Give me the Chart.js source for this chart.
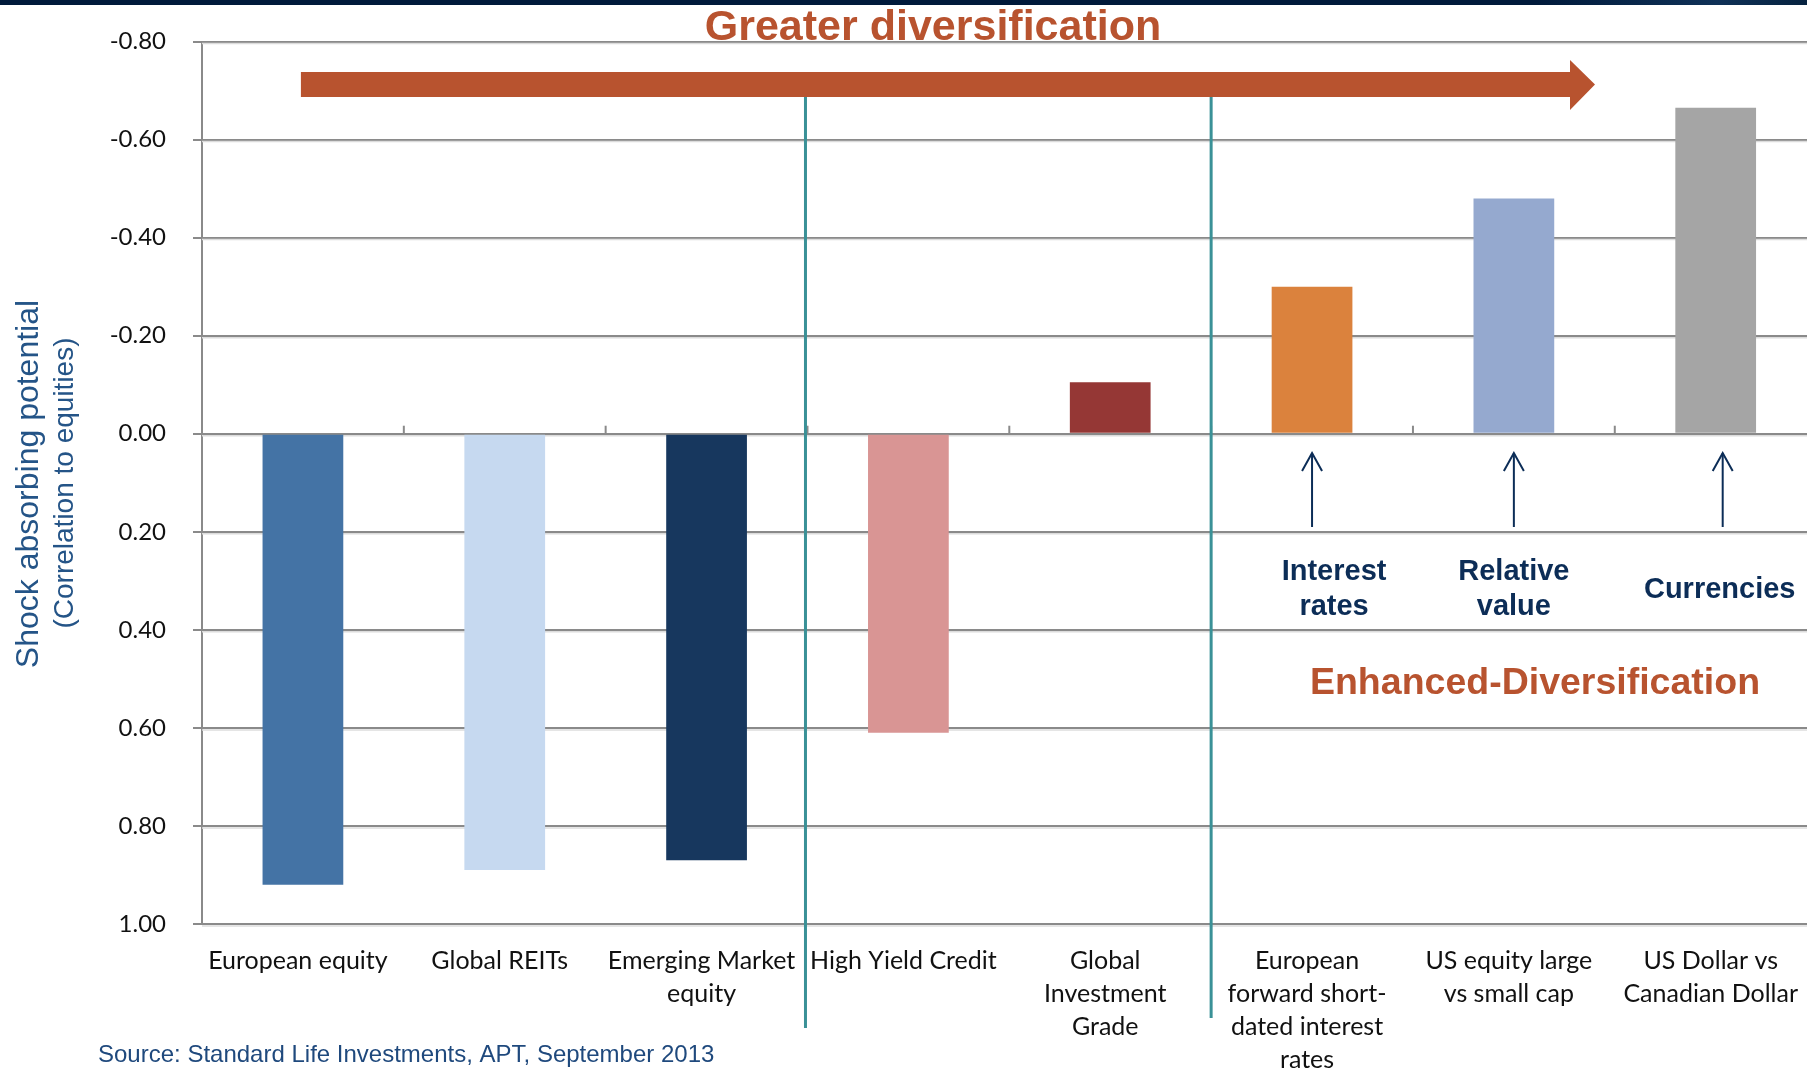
<!DOCTYPE html>
<html><head><meta charset="utf-8">
<script src="https://cdn.jsdelivr.net/npm/chart.js@4/dist/chart.umd.min.js"></script>
<style>
html,body{margin:0;padding:0;background:#fff;overflow:hidden;width:1807px;height:1070px;}
#wrap{position:absolute;left:0;top:0;width:1824px;height:1070px;}
</style></head><body>
<div id="wrap"><canvas id="c" width="1824" height="1070"></canvas></div>
<script>
// ---------- data ----------
const categories = [
  ["European equity"],
  ["Global REITs"],
  ["Emerging Market", "equity"],
  ["High Yield Credit"],
  ["Global", "Investment", "Grade"],
  ["European", "forward short-", "dated interest", "rates"],
  ["US equity large", "vs small cap"],
  ["US Dollar vs", "Canadian Dollar"]
];
const correlations = [0.92, 0.89, 0.87, 0.61, -0.105, -0.30, -0.48, -0.665];
const barColors = ["#4473a5", "#c6d9f0", "#17375e", "#d99594", "#953735", "#db823d", "#95a9cf", "#a5a5a5"];
const yMin = -0.8, yMax = 1.0, yStep = 0.2;
const yTitle = ["Shock absorbing potential", "(Correlation to equities)"];
const chartTitle = "Greater diversification";
const subTitle = "Enhanced-Diversification";
const callouts = [
  { cat: 5, lines: ["Interest", "rates"], dx: 22 },
  { cat: 6, lines: ["Relative", "value"], dx: 0 },
  { cat: 7, lines: ["Currencies"], dx: 4 }
];
const dividersAfter = [2, 4];
const sourceText = "Source: Standard Life Investments, APT, September 2013";

const GRID = "#8a8a8a";
const ORANGE = "#b8532f";
const NAVY = "#0c2d57";
const TEAL = "#3a9197";

const overlay = {
  id: "overlay",
  beforeDraw(chart) {
    const ctx = chart.ctx;
    ctx.save();
    ctx.fillStyle = "#ffffff";
    ctx.fillRect(0, 0, chart.width, chart.height);
    ctx.restore();
  },
  beforeDatasetsDraw(chart) {
    // faint shadow under each horizontal gridline
    const { ctx, scales: { y }, chartArea } = chart;
    ctx.save();
    ctx.strokeStyle = "#dcdcdc"; ctx.lineWidth = 1.5;
    y.ticks.forEach(t => {
      const py = y.getPixelForValue(t.value) + 2;
      ctx.beginPath(); ctx.moveTo(chartArea.left, py); ctx.lineTo(chartArea.right, py); ctx.stroke();
    });
    ctx.restore();
  },
  afterDatasetsDraw(chart) {
    const { ctx, scales: { x, y } } = chart;
    const y0 = y.getPixelForValue(0);
    const bnd = i => (x.getPixelForValue(i) + x.getPixelForValue(i + 1)) / 2;
    ctx.save();
    // small category ticks on zero line
    ctx.strokeStyle = GRID; ctx.lineWidth = 2;
    for (let i = 0; i < categories.length - 1; i++) {
      const bx = bnd(i);
      ctx.beginPath(); ctx.moveTo(bx, y0); ctx.lineTo(bx, y0 - 8); ctx.stroke();
    }
    // teal dividers
    ctx.strokeStyle = TEAL; ctx.lineWidth = 3;
    const divBottoms = [1028, 1018];
    dividersAfter.forEach((c, k) => {
      const bx = bnd(c) - (k === 0 ? 2 : 0);
      ctx.beginPath(); ctx.moveTo(bx, 97); ctx.lineTo(bx, divBottoms[k]); ctx.stroke();
    });
    // big arrow
    const ax0 = x.getPixelForValue(0) - 2;
    ctx.fillStyle = ORANGE;
    ctx.beginPath();
    ctx.moveTo(ax0, 72); ctx.lineTo(1570, 72); ctx.lineTo(1570, 60); ctx.lineTo(1595, 84.5);
    ctx.lineTo(1570, 110); ctx.lineTo(1570, 97); ctx.lineTo(ax0, 97); ctx.closePath(); ctx.fill();
    // callout arrows
    ctx.strokeStyle = NAVY; ctx.lineWidth = 2;
    callouts.forEach(c => {
      const cx = x.getPixelForValue(c.cat) + (c.cat === 7 ? 7 : 0);
      const top = 453, bot = 527;
      ctx.beginPath(); ctx.moveTo(cx, bot); ctx.lineTo(cx, top); ctx.stroke();
      ctx.beginPath(); ctx.moveTo(cx - 10, top + 18); ctx.lineTo(cx, top); ctx.lineTo(cx + 10, top + 18); ctx.stroke();
    });
    ctx.restore();
  },
  afterDraw(chart) {
    const { ctx, scales: { x } } = chart;
    ctx.save();
    // top band
    const g = ctx.createLinearGradient(0, 0, 1807, 0);
    g.addColorStop(0, "#001a3b"); g.addColorStop(0.85, "#001a3b"); g.addColorStop(0.95, "#0f3157"); g.addColorStop(1, "#06223f");
    ctx.fillStyle = g;
    ctx.fillRect(0, 0, chart.width, 5);
    // title
    ctx.fillStyle = ORANGE;
    ctx.font = "bold 43px 'Liberation Sans', Arial, sans-serif";
    ctx.textAlign = "center"; ctx.textBaseline = "alphabetic";
    ctx.fillText(chartTitle, 933, 40);
    // enhanced
    ctx.font = "bold 37.5px 'Liberation Sans', Arial, sans-serif";
    ctx.textBaseline = "middle";
    ctx.fillText(subTitle, 1535, 684);
    // callout texts
    ctx.fillStyle = NAVY;
    ctx.font = "bold 29px 'Liberation Sans', Arial, sans-serif";
    callouts.forEach(c => {
      const cx = x.getPixelForValue(c.cat) + c.dx;
      if (c.lines.length === 1) {
        ctx.fillText(c.lines[0], cx, 590);
      } else {
        ctx.fillText(c.lines[0], cx, 572);
        ctx.fillText(c.lines[1], cx, 607);
      }
    });
    // y title
    ctx.fillStyle = "#245487";
    ctx.save();
    ctx.translate(29, 484); ctx.rotate(-Math.PI / 2);
    ctx.font = "32px 'Liberation Sans', Arial, sans-serif";
    ctx.fillText(yTitle[0], 0, 0);
    ctx.restore();
    ctx.save();
    ctx.translate(65, 483); ctx.rotate(-Math.PI / 2);
    ctx.font = "28px 'Liberation Sans', Arial, sans-serif";
    ctx.fillText(yTitle[1], 0, 0);
    ctx.restore();
    // source
    ctx.fillStyle = "#1f497d";
    ctx.textAlign = "left";
    ctx.font = "24px 'Liberation Sans', Arial, sans-serif";
    ctx.fillText(sourceText, 98, 1055);
    ctx.restore();
  }
};

new Chart(document.getElementById("c"), {
  type: "bar",
  data: {
    labels: categories,
    datasets: [{
      data: correlations,
      backgroundColor: barColors,
      borderWidth: 0,
      barPercentage: 0.4,
      categoryPercentage: 1.0
    }]
  },
  options: {
    responsive: false,
    animation: false,
    devicePixelRatio: 1,
    layout: { padding: { top: 41.5, left: 0, right: 0, bottom: 0 } },
    plugins: { legend: { display: false }, tooltip: { enabled: false }, title: { display: false } },
    scales: {
      x: {
        grid: { display: false, drawTicks: false },
        border: { display: false },
        ticks: {
          color: "#111111",
          font: { family: "Lato, 'Open Sans', sans-serif", size: 25, lineHeight: 1.31 },
          padding: 21,
          labelOffset: -5,
          maxRotation: 0, autoSkip: false
        },
        afterFit(s) { s.height = 146; }
      },
      y: {
        reverse: true,
        min: yMin, max: yMax,
        ticks: {
          stepSize: yStep,
          color: "#111111",
          font: { family: "Lato, 'Open Sans', sans-serif", size: 24 },
          padding: 27,
          callback: v => (Math.abs(v) < 1e-9 ? 0 : v).toFixed(2)
        },
        grid: { color: GRID, lineWidth: 2, tickLength: 9 },
        border: { display: true, color: GRID, width: 2 },
        afterFit(s) { s.width = 202; }
      }
    }
  },
  plugins: [overlay]
});
</script>
</body></html>
